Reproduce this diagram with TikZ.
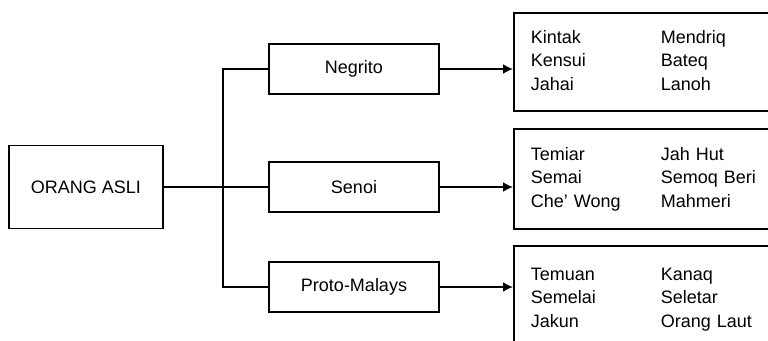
\documentclass[tikz,border=0pt]{standalone}
\usepackage{fontspec}
\setmainfont{Liberation Sans}
\usetikzlibrary{arrows.meta, positioning}

\begin{document}
\begin{tikzpicture}[x=0.5pt, y=-0.5pt, line width=0.9pt,
  rootbox/.style={draw, minimum width=77pt, minimum height=41.5pt, inner sep=0pt, font=\fontsize{9}{11}\selectfont},
  branchbox/.style={draw, minimum width=85pt, minimum height=25pt, inner sep=0pt, font=\fontsize{9}{11}\selectfont},
  groupbox/.style={draw, anchor=north west, text width=140pt, inner xsep=8.5pt, inner ysep=0pt, align=left, font=\fontsize{9}{11.75}\selectfont},
  arrow/.style={-{Latex[length=5pt, width=5pt]}}
]
  \useasboundingbox (0,0) rectangle (768,341);

  % Main group
  \node[rootbox] (root) at (86,187) {ORANG ASLI};

  % Three branches
  \node[branchbox] (negrito) at (354,69) {Negrito};
  \node[branchbox] (senoi) at (354,187) {Senoi};
  \node[branchbox] (proto) at (354,287) {Proto-Malays};

  % Sub-groups of each branch
  \node[groupbox, minimum height=49pt] (grpnegrito) at (513,12)
    {\begin{tabular}{@{}p{65pt}@{}l@{}}
     Kintak & Mendriq\\
     Kensui & Bateq\\
     Jahai  & Lanoh
     \end{tabular}};
  \node[groupbox, minimum height=50pt] (grpsenoi) at (513,128)
    {\begin{tabular}{@{}p{65pt}@{}l@{}}
     Temiar    & Jah Hut\\
     Semai     & Semoq Beri\\
     Che' Wong & Mahmeri
     \end{tabular}};
  \node[groupbox, minimum height=53pt] (grpproto) at (513,245)
    {\begin{tabular}{@{}p{65pt}@{}l@{}}
     Temuan  & Kanaq\\
     Semelai & Seletar\\
     Jakun   & Orang Laut
     \end{tabular}};

  % Tree lines
  \coordinate (trunk) at (223,187);
  \draw (negrito.west) -| (trunk) |- (proto.west);
  \draw (root.east) -- (senoi.west);

  % Arrows
  \draw[arrow] (negrito.east) -- (negrito.east -| grpnegrito.west);
  \draw[arrow] (senoi.east) -- (senoi.east -| grpsenoi.west);
  \draw[arrow] (proto.east) -- (proto.east -| grpproto.west);
\end{tikzpicture}
\end{document}
